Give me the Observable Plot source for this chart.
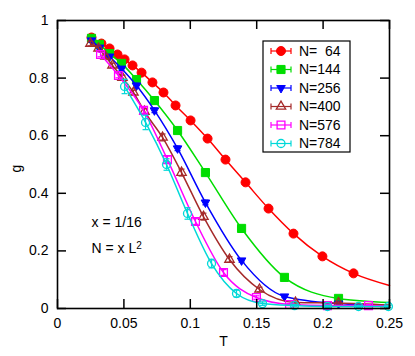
<!DOCTYPE html>
<html><head><meta charset="utf-8">
<script src="https://cdn.jsdelivr.net/npm/d3@7"></script>
<script src="https://cdn.jsdelivr.net/npm/@observablehq/plot@0.6"></script>
<style>
body{margin:0;background:#fff;}
#chart svg{display:block;}
</style></head><body><div id="chart"></div>
<script>
// ---- data ----
const seriesLabels = ["N=  64","N=144","N=256","N=400","N=576","N=784"];

const T64 = [0.0256,0.0331,0.0392,0.0452,0.0505,0.0565,0.0633,0.0715,0.0798,0.0889,0.1002,0.1130,0.1265,0.1416,0.1589,0.1777,0.1995,0.2229];
const g64 = [0.941,0.920,0.903,0.882,0.865,0.844,0.819,0.785,0.750,0.705,0.653,0.590,0.517,0.438,0.347,0.260,0.181,0.122];
const e64 = [0.004,0.004,0.004,0.004,0.004,0.004,0.004,0.004,0.004,0.004,0.004,0.004,0.004,0.004,0.004,0.004,0.004,0.004];

const T144 = [0.0256,0.0316,0.0392,0.0482,0.0595,0.0730,0.0904,0.1114,0.1386,0.1709,0.2116];
const g144 = [0.938,0.917,0.885,0.851,0.795,0.722,0.618,0.472,0.278,0.108,0.035];
const e144 = [0.005,0.005,0.005,0.005,0.005,0.005,0.005,0.005,0.005,0.005,0.005];

const T256 = [0.0256,0.0316,0.0392,0.0482,0.0595,0.0730,0.0904,0.1114,0.1386,0.1709,0.2116];
const g256 = [0.931,0.906,0.875,0.833,0.774,0.688,0.556,0.368,0.167,0.042,0.017];
const e256 = [0.006,0.006,0.006,0.006,0.008,0.008,0.008,0.008,0.006,0.004,0.004];

const T400 = [0.0248,0.0309,0.0361,0.0414,0.0489,0.0572,0.0655,0.0791,0.0934,0.1099,0.1295,0.1521,0.1792,0.2116];
const g400 = [0.920,0.903,0.875,0.844,0.802,0.750,0.684,0.594,0.472,0.319,0.170,0.066,0.021,0.019];
const e400 = [0.008,0.008,0.008,0.008,0.008,0.008,0.010,0.012,0.012,0.012,0.010,0.008,0.005,0.004];

const T576 = [0.0324,0.0459,0.0648,0.0828,0.1039,0.1250,0.1498,0.1747,0.2033,0.2342];
const g576 = [0.882,0.809,0.688,0.517,0.302,0.125,0.038,0.014,0.010,0.010];
const e576 = [0.008,0.008,0.010,0.012,0.010,0.010,0.006,0.004,0.004,0.004];

const T784 = [0.0505,0.0663,0.0821,0.0979,0.1160,0.1348,0.1544,0.1785,0.2033,0.2267,0.2492];
const g784 = [0.771,0.646,0.500,0.330,0.156,0.052,0.017,0.010,0.007,0.007,0.007];
const e784 = [0.025,0.025,0.020,0.020,0.015,0.012,0.006,0.004,0.004,0.004,0.004];

// fitted curves' value at the right edge, T = 0.25
const tailT = 0.25;
const tailG = [0.080,0.021,0.010,0.012,0.008,0.007];

const xTicks = [0,0.05,0.1,0.15,0.2,0.25];
const xTickLabels = ["0","0.05","0.1","0.15","0.2","0.25"];
const yTicks = [0,0.2,0.4,0.6,0.8,1];
const yTickLabels = ["0","0.2","0.4","0.6","0.8","1"];

const annot1 = "x = 1/16";
const annot2 = "N = x L";
const annot2sup = "2";

// ---- build tables ----
const Ts = [T64,T144,T256,T400,T576,T784];
const Gs = [g64,g144,g256,g400,g576,g784];
const Es = [e64,e144,e256,e400,e576,e784];
const series = seriesLabels.map((label,i)=>({
  label,
  points: Ts[i].map((T,j)=>({T, g: Gs[i][j], e: Es[i][j]})),
  fit: Ts[i].map((T,j)=>({T, g: Gs[i][j]})).concat([{T: tailT, g: tailG[i]}])
}));

// ---- styles ----
const styles = [
  {color:"#ff0000", symbol:"circle",   r:4.5, filled:true,  rotate:0},
  {color:"#00dd00", symbol:"square",   r:4.6, filled:true,  rotate:0},
  {color:"#0000ff", symbol:"triangle", r:3.2, filled:true,  rotate:180},
  {color:"#a52a2a", symbol:"triangle", r:3.5, filled:false, rotate:0},
  {color:"#ff00ff", symbol:"square",   r:4.4, filled:false, rotate:0},
  {color:"#00d8d8", symbol:"circle",   r:4,   filled:false, rotate:0}
];
const capSymbol = {draw(ctx, size){ const w = Math.sqrt(size/Math.PI); ctx.moveTo(-w,0); ctx.lineTo(w,0); }};

const W = 415, H = 356, mL = 57, mR = 26, mT = 20, mB = 48;
const pw = W - mL - mR, ph = H - mT - mB, tk = 9;

const marks = [];
series.forEach((s,i)=>{
  const st = styles[i];
  marks.push(Plot.line(s.fit, {x:"T", y:"g", stroke: st.color, strokeWidth: 1.5, curve: "monotone-x"}));
  marks.push(Plot.ruleX(s.points, {x:"T", y1: d=>d.g-d.e, y2: d=>d.g+d.e, stroke: st.color, strokeWidth: 1.2}));
  marks.push(Plot.dot(s.points, {x:"T", y: d=>d.g+d.e, symbol: capSymbol, r: 3, stroke: st.color, strokeWidth: 1.2}));
  marks.push(Plot.dot(s.points, {x:"T", y: d=>d.g-d.e, symbol: capSymbol, r: 3, stroke: st.color, strokeWidth: 1.2}));
  marks.push(Plot.dot(s.points, {x:"T", y:"g", symbol: st.symbol, r: st.r, rotate: st.rotate,
    fill: st.filled ? st.color : "none", stroke: st.color, strokeWidth: st.filled ? 1 : 1.3}));
});

const plot = Plot.plot({
  width: W, height: H,
  marginLeft: mL, marginRight: mR, marginTop: mT, marginBottom: mB,
  x: {domain:[0,0.25]},
  y: {domain:[0,1]},
  style: {fontFamily: "'Liberation Sans', Arial, sans-serif", fontSize: "14px", background: "white", color: "black"},
  marks: [
    ...marks,
    Plot.frame({stroke: "black", strokeWidth: 1.6}),
    Plot.tickX(xTicks, {x: d=>d, insetTop: ph - tk, stroke: "black", strokeWidth: 1.5}),
    Plot.tickX(xTicks, {x: d=>d, insetBottom: ph - tk, stroke: "black", strokeWidth: 1.5}),
    Plot.tickY(yTicks, {y: d=>d, insetRight: pw - tk, stroke: "black", strokeWidth: 1.5}),
    Plot.tickY(yTicks, {y: d=>d, insetLeft: pw - tk, stroke: "black", strokeWidth: 1.5}),
    Plot.axisX({ticks: xTicks, tickFormat: d=>xTickLabels[xTicks.indexOf(d)], tickSize: 0, tickPadding: 10, label: null, fontSize: 14}),
    Plot.axisY({ticks: yTicks, tickFormat: d=>yTickLabels[yTicks.indexOf(d)], tickSize: 0, tickPadding: 9, label: null, fontSize: 14}),
    Plot.text(["T"], {frameAnchor: "bottom", dy: 37, text: d=>d, fontSize: 14}),
    Plot.text(["g"], {frameAnchor: "left", dx: -41, dy: 8, rotate: -90, text: d=>d, fontSize: 14}),
    Plot.text([annot1], {frameAnchor: "top-left", dx: 34, dy: 197, textAnchor: "start", text: d=>d, fontSize: 14}),
    Plot.text([annot2], {frameAnchor: "top-left", dx: 34, dy: 223, textAnchor: "start", text: d=>d, fontSize: 14, className: "annot2"})
  ]
});
document.getElementById("chart").appendChild(plot);

const svg = d3.select(plot);
// superscript on the second annotation
svg.selectAll("text").filter(function(){ return this.textContent === annot2; })
  .append("tspan").attr("dy", "-0.45em").attr("font-size", 10).text(annot2sup);

// ---- legend (inside the frame, top right) ----
const lg = svg.append("g").attr("font-family", "'Liberation Sans', Arial, sans-serif")
  .attr("font-size", 14).attr("text-anchor", "start");
const bx = 263, by = 41, bw = 87, bh = 111, rowY0 = 51, rowDY = 18.5;
lg.append("rect").attr("x", bx).attr("y", by).attr("width", bw).attr("height", bh)
  .attr("fill", "white").attr("stroke", "black").attr("stroke-width", 1.2);
const symMap = {circle: d3.symbolCircle, square: d3.symbolSquare, triangle: d3.symbolTriangle};
series.forEach((s,i)=>{
  const st = styles[i];
  const y = rowY0 + i*rowDY;
  const g = lg.append("g").attr("stroke", st.color).attr("stroke-width", 1.2);
  g.append("line").attr("x1", 271).attr("x2", 291).attr("y1", y).attr("y2", y);
  g.append("line").attr("x1", 271).attr("x2", 271).attr("y1", y-3).attr("y2", y+3);
  g.append("line").attr("x1", 291).attr("x2", 291).attr("y1", y-3).attr("y2", y+3);
  g.append("path").attr("d", d3.symbol(symMap[st.symbol], st.r*st.r*Math.PI)())
    .attr("transform", `translate(281,${y}) rotate(${st.rotate})`)
    .attr("fill", st.filled ? st.color : "none").attr("stroke-width", st.filled ? 1 : 1.3);
  lg.append("text").attr("x", 299).attr("y", y).attr("dy", "0.35em").attr("text-anchor", "start")
    .style("white-space", "pre").attr("fill", "black").text(s.label);
});
</script>
</body></html>
